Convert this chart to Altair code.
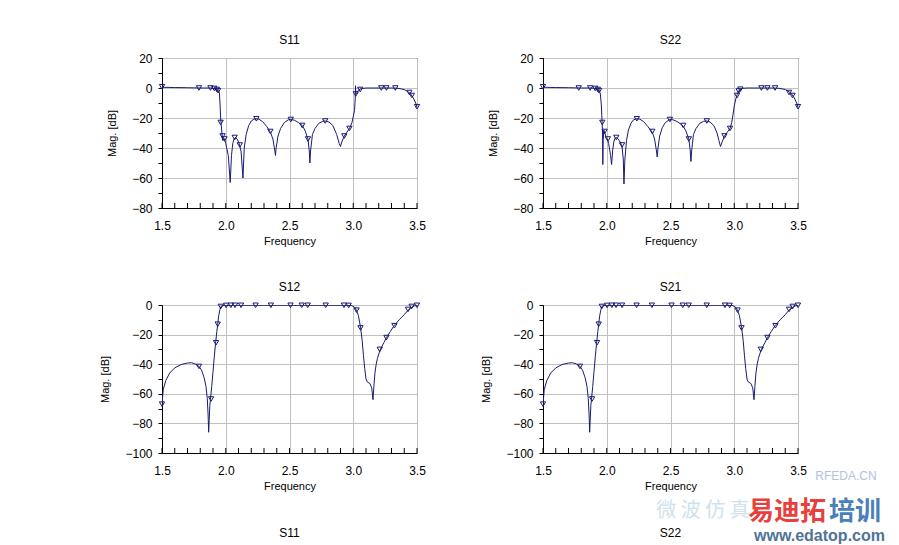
import altair as alt
import pandas as pd

NAVY = "#1a1a72"

# ---------------- data ----------------
s11_f = [1.50, 1.60, 1.70, 1.80, 1.88, 1.92, 1.94, 1.95, 1.955, 1.96, 1.965, 1.97, 1.975, 1.98, 1.99,
         2.00, 2.02, 2.035, 2.045, 2.055, 2.065, 2.075, 2.09, 2.105, 2.12, 2.135, 2.145, 2.16, 2.18,
         2.20, 2.22, 2.24, 2.26, 2.29, 2.32, 2.35, 2.37, 2.385, 2.39, 2.395, 2.41, 2.43, 2.46, 2.49,
         2.51, 2.54, 2.57, 2.60, 2.62, 2.645, 2.655, 2.66, 2.665, 2.68, 2.70, 2.73, 2.76, 2.78, 2.81,
         2.84, 2.87, 2.89, 2.90, 2.91, 2.93, 2.95, 2.97, 2.99, 3.00, 3.01, 3.015, 3.018, 3.02, 3.03,
         3.04, 3.06, 3.10, 3.20, 3.30, 3.35, 3.40, 3.43, 3.45, 3.47, 3.49, 3.50]
s11_db = [0.5, 0.3, 0.2, 0.0, 0.0, -0.5, -1.5, -3, -10, -20, -25, -30, -35, -33, -34,
          -37, -45, -63, -45, -37, -34, -33, -34, -37, -42, -60, -40, -31, -25,
          -22, -20.8, -20.5, -20.8, -22.5, -25.5, -29.5, -34, -42, -45, -40, -32, -27, -23, -21.2,
          -21, -21.5, -23, -25, -28, -34, -42, -50, -42, -31, -27, -23.5, -22.2, -22, -22.7,
          -25, -31, -37, -39, -36, -32, -29.5, -27, -23, -19, -15, -8, 1.5, -4, -3,
          -1.5, -0.5, 0.0, 0.0, 0.0, -0.2, -1, -2.5, -4, -6.5, -10, -13]
s11_mf = [1.50, 1.79, 1.88, 1.91, 1.93, 1.94, 1.96, 1.975, 1.99, 2.07, 2.11, 2.24, 2.35, 2.51,
          2.60, 2.645, 2.78, 2.93, 2.97, 3.02, 3.055, 3.22, 3.26, 3.33, 3.44, 3.46, 3.50]
s11_mdb = [0.8, 0.0, 0.0, -0.3, -1, -1.8, -23, -32, -34, -33, -38, -20.5, -29, -21,
           -25, -34, -22, -32, -27, -4, -1, 0.0, 0.0, 0.0, -3, -5, -12.5]

s22_f = [1.50, 1.60, 1.70, 1.80, 1.88, 1.92, 1.94, 1.95, 1.958, 1.963, 1.967, 1.969, 1.972, 1.977,
         1.985, 1.995, 2.005, 2.015, 2.03, 2.038, 2.046, 2.055, 2.065, 2.075, 2.09, 2.105, 2.12,
         2.13, 2.135, 2.142, 2.155, 2.17, 2.19, 2.21, 2.236, 2.26, 2.29, 2.32, 2.357, 2.375, 2.39,
         2.396, 2.402, 2.415, 2.435, 2.46, 2.495, 2.52, 2.55, 2.58, 2.60, 2.62, 2.644, 2.655, 2.66,
         2.666, 2.68, 2.70, 2.73, 2.76, 2.785, 2.81, 2.84, 2.865, 2.88, 2.892, 2.905, 2.923, 2.945,
         2.967, 2.98, 2.99, 3.00, 3.01, 3.022, 3.035, 3.048, 3.07, 3.10, 3.20, 3.30, 3.35, 3.40,
         3.43, 3.45, 3.47, 3.49, 3.50]
s22_db = [0.5, 0.3, 0.2, 0.0, 0.0, -0.5, -1.5, -4, -12, -22, -30, -51, -35, -28,
          -30, -33, -34, -37, -45, -51, -42, -36, -33.5, -33, -34, -36, -39,
          -48, -64, -48, -35, -28, -23.5, -21.2, -20.5, -20.8, -22.5, -25.5, -29.5, -34, -42,
          -46, -40, -32, -26.5, -23, -21, -21.2, -22.3, -24, -25.5, -28.5, -34, -42, -49,
          -42, -31, -27, -23.5, -22.2, -22, -22.7, -25, -30, -35, -39, -36, -32, -29.5,
          -27, -23, -18, -12, -8, -4.5, -2, -0.8, -0.2, 0.0, 0.0, 0.0, -0.2, -1,
          -2.5, -4, -6.5, -10, -13]
s22_mf = [1.50, 1.78, 1.87, 1.91, 1.93, 1.94, 1.965, 1.983, 2.009, 2.075, 2.12, 2.236, 2.357,
          2.495, 2.60, 2.644, 2.785, 2.923, 2.967, 3.022, 3.035, 3.048, 3.213, 3.26, 3.32, 3.43,
          3.457, 3.50]
s22_mdb = [0.8, 0.0, 0.0, -0.3, -1, -1.8, -23, -29, -34, -33, -38, -20.5, -29,
           -21, -25, -34, -22, -32, -27, -5, -2, -0.8, 0.0, 0.0, 0.0, -3,
           -5, -12.5]

s12_f = [1.50, 1.505, 1.51, 1.53, 1.56, 1.60, 1.65, 1.70, 1.73, 1.76, 1.79, 1.81, 1.83, 1.845,
         1.855, 1.862, 1.866, 1.870, 1.875, 1.88, 1.89, 1.90, 1.91, 1.92, 1.93, 1.937, 1.945, 1.955,
         1.96, 1.97, 1.99, 2.05, 2.50, 2.95, 2.99, 3.01, 3.025, 3.04, 3.057, 3.07, 3.08, 3.09, 3.10,
         3.11, 3.13, 3.145, 3.155, 3.162, 3.17, 3.18, 3.19, 3.21, 3.24, 3.26, 3.29, 3.32, 3.36,
         3.40, 3.43, 3.46, 3.48, 3.50]
s12_db = [-68, -62, -57, -51, -46, -42.5, -40.2, -39.2, -39, -39.8, -41.5, -44, -49, -55,
          -63, -75, -86, -78, -68, -64, -55, -45, -35, -26, -18, -13, -7, -3,
          -1.2, -0.6, -0.3, -0.2, -0.2, -0.2, -0.5, -1.5, -3.5, -7, -15, -24, -34, -43, -50,
          -52, -53, -56, -64, -55, -46, -40, -36, -30.5, -25.5, -22, -18, -14, -10,
          -6.5, -3.5, -1.5, -0.6, -0.2]
s12_mf = [1.50, 1.79, 1.885, 1.924, 1.937, 1.961, 2.003, 2.04, 2.073, 2.12, 2.234, 2.354, 2.508,
          2.596, 2.643, 2.784, 2.927, 2.964, 3.026, 3.057, 3.208, 3.26, 3.323, 3.43, 3.458, 3.50]
s12_mdb = [-67, -41.5, -63.5, -25.5, -13, -1, -0.3, -0.2, -0.2, -0.2, -0.2, -0.2, -0.2,
           -0.2, -0.2, -0.2, -0.2, -0.3, -3.5, -15.5, -30, -22, -14, -3, -1, -0.2]

s21_f = list(s12_f)
s21_db = list(s12_db)
s21_mf = list(s12_mf)
s21_mdb = list(s12_mdb)

x_major = [1.5, 2.0, 2.5, 3.0, 3.5]
x_minor = [1.5, 1.6, 1.7, 1.8, 1.9, 2.0, 2.1, 2.2, 2.3, 2.4, 2.5, 2.6, 2.7, 2.8, 2.9,
           3.0, 3.1, 3.2, 3.3, 3.4, 3.5]
y_ticks_refl = [-80, -70, -60, -50, -40, -30, -20, -10, 0, 10, 20]
y_ticks_trans = [-100, -90, -80, -70, -60, -50, -40, -30, -20, -10, 0]

FONT = "Liberation Sans"


def panel(title, f, db, mf, mdb, ydom, yticks, h, extra=None):
    w = 255
    xs = alt.Scale(domain=[1.5, 3.5], nice=False, zero=False)
    ys = alt.Scale(domain=ydom, nice=False, zero=False)
    xaxis = alt.Axis(values=x_major, format=".1f", ticks=False, grid=True, tickCount=50,
                     labelPadding=12, title="Frequency", titlePadding=4,
                     labelFontSize=12, titleFontSize=11, labelFlush=False, labelOverlap=False)
    yaxis = alt.Axis(values=yticks, tickSize=4, labelPadding=6, title="Mag. [dB]", tickCount=50,
                     labelExpr="datum.value % 20 === 0 ? datum.label : ''",
                     gridOpacity={"condition": {"test": "datum.value % 20 === 0", "value": 1}, "value": 0},
                     titlePadding=14, labelFontSize=12, titleFontSize=11,
                     labelFlush=False, labelOverlap=False)
    line_df = pd.DataFrame({"f": f, "db": db})
    mk_df = pd.DataFrame({"f": mf, "db": mdb})
    tk_df = pd.DataFrame({"t": x_minor})
    line = alt.Chart(line_df).mark_line(color=NAVY, strokeWidth=1, clip=True).encode(
        x=alt.X("f:Q", scale=xs, axis=xaxis),
        y=alt.Y("db:Q", scale=ys, axis=yaxis),
        order="f:Q",
    )
    marks = alt.Chart(mk_df).mark_point(shape="triangle-down", filled=False, color=NAVY,
                                        size=28, strokeWidth=1, opacity=1).encode(
        x=alt.X("f:Q", scale=xs), y=alt.Y("db:Q", scale=ys))
    ticks = alt.Chart(tk_df).mark_rule(color="black", strokeWidth=1).encode(
        x=alt.X("t:Q", scale=xs), y=alt.value(h), y2=alt.value(h - 5))
    layers = [line, marks, ticks]
    if extra:
        layers += extra
    return alt.layer(*layers).properties(
        width=w, height=h,
        title=alt.TitleParams(title, fontSize=12, fontWeight="normal", offset=5, font=FONT),
    )


def label_text(txt, x, y, size=12, color="black", weight="normal", opacity=1.0, align="center",
               font=FONT):
    return alt.Chart(pd.DataFrame({"t": [txt]})).mark_text(
        fontSize=size, color=color, fontWeight=weight, font=font, opacity=opacity, align=align,
        baseline="middle").encode(text="t:N", x=alt.value(x), y=alt.value(y))


p1 = panel("S11", s11_f, s11_db, s11_mf, s11_mdb, [-80, 20], y_ticks_refl, 150)
p2 = panel("S22", s22_f, s22_db, s22_mf, s22_mdb, [-80, 20], y_ticks_refl, 150)
p3 = panel("S12", s12_f, s12_db, s12_mf, s12_mdb, [-100, 0], y_ticks_trans, 148,
           extra=[label_text("S11", 127.5, 228)])
wm = [
    label_text("S22", 127.5, 228),
    label_text("RFEDA.CN", 303, 171, size=12, color="#9fb4d8", opacity=0.8),
    label_text("微 波 仿 真", 160, 206, size=20, color="#c3dbea", opacity=0.8,
               font="Noto Sans CJK SC"),
    label_text("易迪拓", 205, 207, size=26, color="#e8403c", weight="bold", align="left",
               font="Noto Sans CJK SC"),
    label_text("培训", 286, 207, size=26, color="#4b7fb8", weight="bold", align="left",
               font="Noto Sans CJK SC"),
    label_text("www.edatop.com", 211, 231, size=16, color="#4f7396", weight="bold", align="left"),
]
p4 = panel("S21", s21_f, s21_db, s21_mf, s21_mdb, [-100, 0], y_ticks_trans, 148, extra=wm)

chart = alt.concat(p1, p2, p3, p4, columns=2, spacing={"row": 97, "column": 126},
                   bounds="flush").properties(
    padding={"left": 91, "top": 25, "right": 0, "bottom": 0},
).configure(font=FONT).configure_view(stroke="black", strokeWidth=1).configure_axis(
    domainColor="black", tickColor="black", gridColor="#c0c0c0", gridWidth=1,
    labelColor="black", titleColor="black", titleFontWeight="normal", labelFont=FONT, titleFont=FONT,
).configure_title(color="black")

chart.save("out.html", embed_options={"renderer": "svg", "actions": False})
